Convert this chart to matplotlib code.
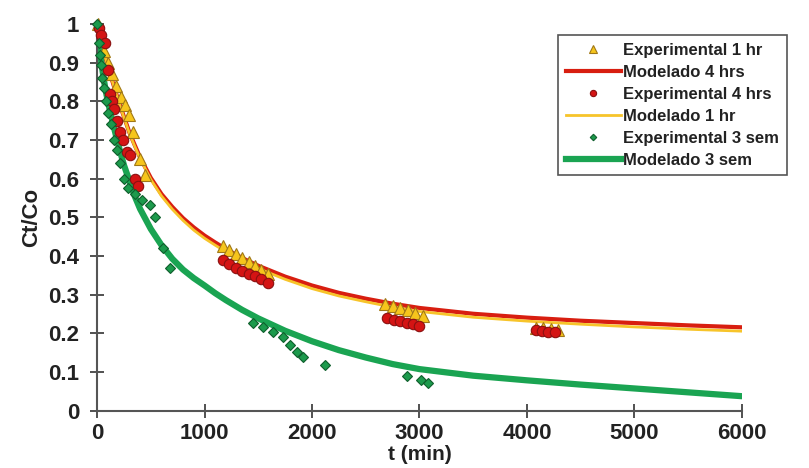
import matplotlib
matplotlib.use("Agg")
import matplotlib.pyplot as plt

plt.rcParams['font.family'] = ['Liberation Sans', 'DejaVu Sans']
plt.rcParams['font.weight'] = 'bold'

# Experimental 1 hr (triangles)
t_exp1 = [10, 60, 100, 140, 180, 220, 260, 300, 330, 400, 450,
          1170, 1230, 1290, 1350, 1410, 1470, 1530, 1590,
          2680, 2750, 2820, 2890, 2960, 3030,
          4080, 4150, 4220, 4290]
c_exp1 = [1.0, 0.93, 0.90, 0.87, 0.84, 0.81, 0.79, 0.765, 0.72, 0.65, 0.61,
          0.425, 0.415, 0.405, 0.395, 0.385, 0.375, 0.365, 0.355,
          0.275, 0.27, 0.265, 0.26, 0.252, 0.245,
          0.215, 0.213, 0.211, 0.208]

# Experimental 4 hrs (circles)
t_exp4 = [15, 40, 70, 100, 120, 140, 160, 185, 215, 245, 280, 310, 350, 380,
          1170, 1230, 1290, 1350, 1410, 1470, 1530, 1590,
          2700, 2760, 2820, 2880, 2940, 3000,
          4080, 4140, 4200, 4260]
c_exp4 = [0.99, 0.97, 0.95, 0.88, 0.82, 0.80, 0.78, 0.75, 0.72, 0.70, 0.67, 0.66, 0.60, 0.58,
          0.39, 0.38, 0.37, 0.362, 0.355, 0.348, 0.34, 0.33,
          0.24, 0.235, 0.232, 0.228, 0.224, 0.22,
          0.208, 0.206, 0.205, 0.204]

# Experimental 3 sem (diamonds)
t_exp3 = [0, 19, 28, 37, 47, 65, 84, 102, 130, 158, 186, 214, 251, 288, 353, 420,
          493, 540, 614, 679, 1453, 1545, 1640, 1730, 1795, 1860, 1920, 2120,
          2880, 3010, 3080]
c_exp3 = [1.0, 0.95, 0.92, 0.895, 0.86, 0.835, 0.80, 0.77, 0.74, 0.70, 0.675, 0.64, 0.60, 0.575, 0.56, 0.545,
          0.532, 0.50, 0.42, 0.37, 0.227, 0.217, 0.204, 0.19, 0.17, 0.152, 0.14, 0.119,
          0.09, 0.08, 0.072]

# Modelled curves
t_mod = [0, 25, 50, 75, 100, 150, 200, 250, 300, 350, 400, 500, 600, 700, 800, 900,
         1000, 1100, 1200, 1350, 1500, 1750, 2000, 2250, 2500, 2750, 3000, 3500,
         4000, 4500, 5000, 5500, 6000]
c_mod4 = [1.0, 0.97, 0.94, 0.915, 0.89, 0.845, 0.80, 0.76, 0.72, 0.687, 0.655, 0.602, 0.56, 0.527,
          0.498, 0.474, 0.453, 0.435, 0.418, 0.395, 0.375, 0.347, 0.324, 0.305, 0.29, 0.277,
          0.266, 0.251, 0.241, 0.233, 0.227, 0.221, 0.216]
c_mod1 = [1.0, 0.97, 0.94, 0.915, 0.89, 0.844, 0.799, 0.758, 0.718, 0.684, 0.652, 0.598, 0.555, 0.521,
          0.492, 0.467, 0.446, 0.428, 0.411, 0.388, 0.368, 0.34, 0.316, 0.297, 0.282, 0.268,
          0.257, 0.242, 0.232, 0.224, 0.217, 0.211, 0.206]
c_mod3 = [1.0, 0.93, 0.88, 0.835, 0.80, 0.74, 0.685, 0.635, 0.595, 0.555, 0.522, 0.47, 0.428, 0.393,
          0.365, 0.343, 0.324, 0.304, 0.286, 0.261, 0.239, 0.207, 0.18, 0.157, 0.138, 0.121,
          0.108, 0.091, 0.079, 0.068, 0.058, 0.048, 0.038]

fig = plt.figure(figsize=(8.09, 4.68), dpi=100)
ax = fig.add_axes([0.12, 0.122, 0.797, 0.827])

l4, = ax.plot(t_mod, c_mod4, color='#d81e10', lw=3, zorder=2)
l1, = ax.plot(t_mod, c_mod1, color='#f7c42a', lw=2, zorder=2)
l3, = ax.plot(t_mod, c_mod3, color='#1aa452', lw=4.5, zorder=2)

p1, = ax.plot(t_exp1, c_exp1, ls='none', marker='^', ms=9, mfc='#f6c51c', mec='#a07818',
              mew=0.8, zorder=3, clip_on=False)
p4, = ax.plot(t_exp4, c_exp4, ls='none', marker='o', ms=7.5, mfc='#d41414', mec='#8a1010',
              mew=0.8, zorder=4, clip_on=False)
p3, = ax.plot(t_exp3, c_exp3, ls='none', marker='D', ms=5.5, mfc='#1c9a4c', mec='#0f5e2c',
              mew=0.8, zorder=5, clip_on=False)

ax.set_xlim(0, 6000)
ax.set_ylim(0, 1)
ax.set_xticks([0, 1000, 2000, 3000, 4000, 5000, 6000])
ax.set_yticks([0, 0.1, 0.2, 0.3, 0.4, 0.5, 0.6, 0.7, 0.8, 0.9, 1])
ax.set_yticklabels(['0', '0.1', '0.2', '0.3', '0.4', '0.5', '0.6', '0.7', '0.8', '0.9', '1'])
ax.tick_params(direction='inout', length=10, width=1.2, colors='#333333',
               labelsize=16, labelcolor='#222222')
ax.tick_params(axis='x', pad=4)
ax.tick_params(axis='y', pad=8)
for lab in ax.get_xticklabels() + ax.get_yticklabels():
    lab.set_fontweight('bold')
ax.spines['top'].set_visible(False)
ax.spines['right'].set_visible(False)
for s in ['left', 'bottom']:
    ax.spines[s].set_color('#555555')
    ax.spines[s].set_linewidth(1.5)

ax.set_xlabel('t (min)', fontsize=15, fontweight='bold', labelpad=0.5, color='#222222')
ax.set_ylabel('Ct/Co', fontsize=16, fontweight='bold', labelpad=4, color='#222222')

leg = ax.legend([p1, l4, p4, l1, p3, l3],
                ['Experimental 1 hr', 'Modelado 4 hrs', 'Experimental 4 hrs',
                 'Modelado 1 hr', 'Experimental 3 sem', 'Modelado 3 sem'],
                loc='upper left', bbox_to_anchor=(0.69, 0.925),
                bbox_transform=fig.transFigure, fancybox=False,
                edgecolor='#555555', framealpha=1, fontsize=12, markerscale=0.6,
                handlelength=3.3, handletextpad=0.15, borderpad=0.45, labelspacing=0.42,
                borderaxespad=0)
for txt in leg.get_texts():
    txt.set_fontweight('bold')
    txt.set_color('#222222')
leg.get_frame().set_linewidth(1.2)

fig.savefig('out.png', dpi=100)
